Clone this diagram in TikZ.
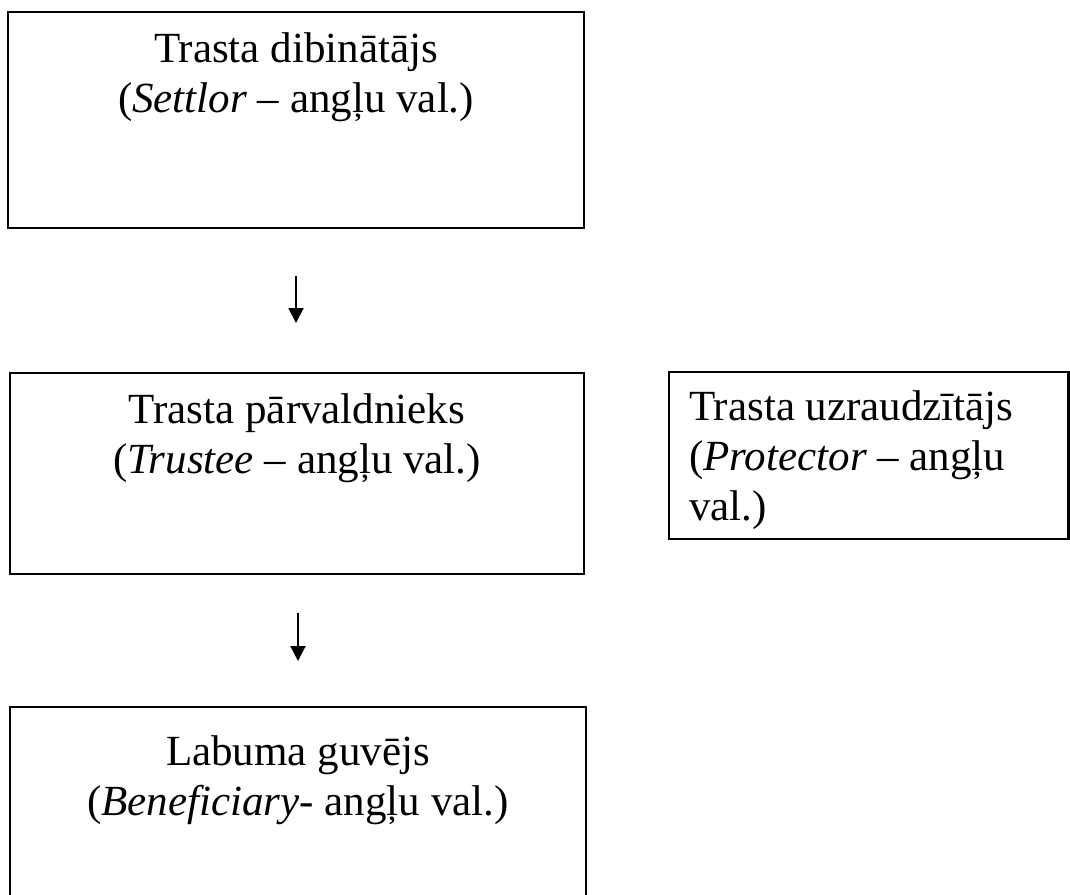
\documentclass[tikz,border=0pt]{standalone}
\usepackage{fontspec}
\setmainfont{Liberation Serif}
\usetikzlibrary{arrows.meta}
\tikzset{
  frame/.style={draw=black, line width=2.6pt, inner sep=0pt, rectangle},
  caption/.style={inner sep=0pt, anchor=north, font=\fontsize{43pt}{50pt}\selectfont},
  flow/.style={line width=2pt, -{Triangle[length=15pt,width=15pt]}}
}
\begin{document}
\begin{tikzpicture}[x=1pt, y=-1pt]
  \useasboundingbox (0,0) rectangle (1070,894);
  \clip (0,0) rectangle (1070,894);
  % frames
  \node[frame, minimum width=576pt, minimum height=216pt] (settlor) at (296,120) {};
  \node[frame, minimum width=574pt, minimum height=201pt] (trustee) at (297,473.5) {};
  \node[frame, minimum width=399.5pt, minimum height=167pt] (protector) at (868.75,455.5) {};
  \node[frame, minimum width=576pt, minimum height=200pt] (beneficiary) at (298,807) {};
  % texts: the strut puts the first baseline 35pt below each node's north edge
  \node[caption, align=center] (settlortext) at (296,27)
    {\strut Trasta dibinātājs\\(\textit{Settlor} – angļu val.)};
  \node[caption, align=center] (trusteetext) at (297,388)
    {\strut Trasta pārvaldnieks\\(\textit{Trustee} – angļu val.)};
  \node[caption, align=left, anchor=north west] (protectortext) at (689,385)
    {\strut Trasta uzraudzītājs\\(\textit{Protector} – angļu\\val.)};
  \node[caption, align=center] (beneficiarytext) at (298,730)
    {\strut Labuma guvējs\\(\textit{Beneficiary}- angļu val.)};
  % connectors
  \coordinate (a1s) at (296,276);
  \coordinate (a1e) at (296,323);
  \coordinate (a2s) at (298,613);
  \coordinate (a2e) at (298,661);
  \draw[flow] (a1s) -- (a1e);
  \draw[flow] (a2s) -- (a2e);
\end{tikzpicture}
\end{document}
